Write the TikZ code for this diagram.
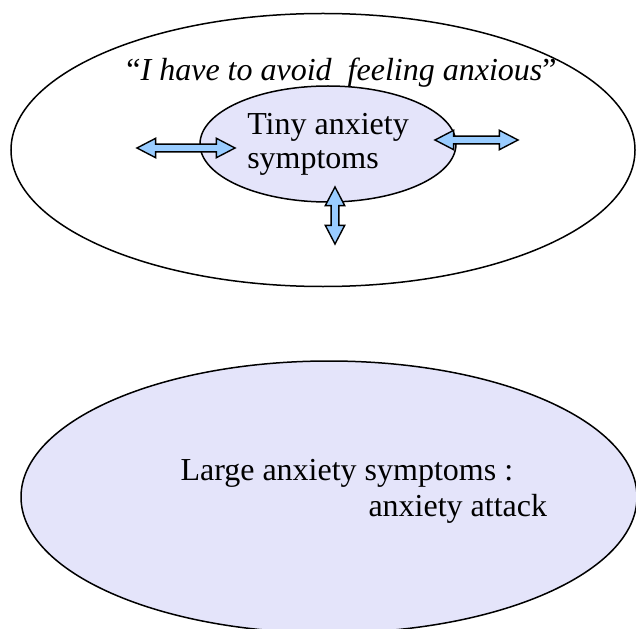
\documentclass[tikz,border=0pt]{standalone}
\usepackage{fontspec}
\setmainfont{Liberation Serif}
\usepackage{tikz}
\usetikzlibrary{shapes.geometric,shapes.arrows}
\definecolor{cSymp}{HTML}{E4E4FA}
\definecolor{cArr} {HTML}{99CCFF}
\definecolor{cLine}{HTML}{000000}
\tikzset{
  oval/.style ={ellipse,draw=cLine,line width=1.5pt,inner sep=0pt},
  symp/.style ={oval,fill=cSymp},
  dbl/.style  ={double arrow,draw=cLine,line width=1.4pt,fill=cArr,inner sep=3.2pt,
                double arrow head extend=5.8pt,double arrow tip angle=55},
  big/.style  ={font=\fontsize{32}{34}\selectfont},
}
\begin{document}
\begin{tikzpicture}[x=1pt,y=-1pt,every node/.style={outer sep=0pt}]
\useasboundingbox (0,0) rectangle (636,628);
\clip (0,0) rectangle (636,628);
\node[oval,minimum width=624pt,minimum height=273pt] (belief) at (323,150) {};
\node[big,anchor=base] (quote) at (341.5,81)
  {“\textit{I have to avoid\ \ feeling anxious}”};
\node[symp,big,align=left,minimum width=256pt,minimum height=116pt] (tiny) at (328,144)
  {Tiny anxiety\\symptoms};

% block arrows pushing out from the small symptoms
\node[dbl,minimum height=98pt] (pushW) at (186,148) {};
\node[dbl,minimum height=83pt] (pushE) at (476.5,140) {};
\node[dbl,minimum height=57pt,rotate=90] (pushS) at (335,215.5) {};

\node[symp,minimum width=616pt,minimum height=272pt] (large) at (329,497) {};
\node[font=\fontsize{32}{36}\selectfont,align=left,anchor=north west,inner sep=0pt]
  (attack) at (180.5,459)
  {Large anxiety symptoms :\\\hspace*{188pt}anxiety attack};
\end{tikzpicture}
\end{document}
